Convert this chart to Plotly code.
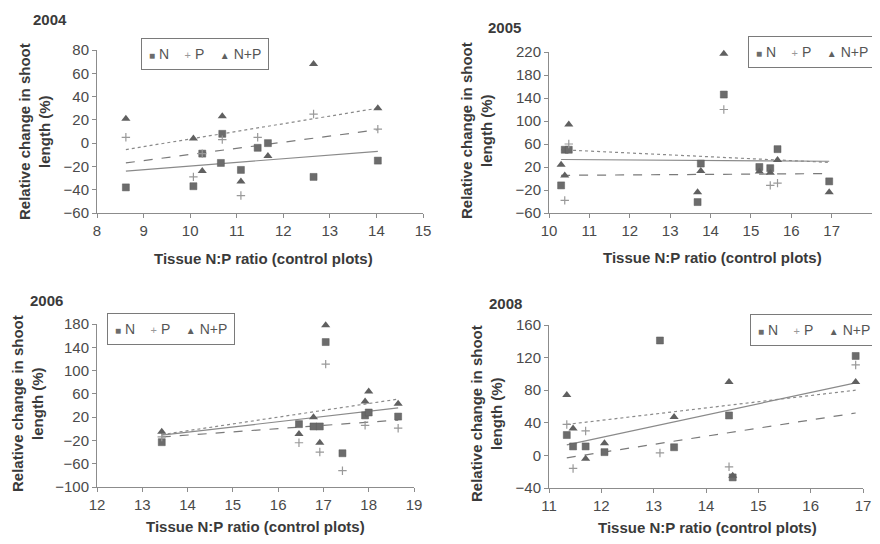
import plotly.graph_objects as go

# target picture size and the page offset (body margin) the figure sits at
PIC_W, PIC_H = 880, 544
OFF = 8
W, H = PIC_W - 2 * OFF, PIC_H - 2 * OFF

# ---------------- data ----------------
years = ["2004", "2005", "2006", "2008"]

# 2004
x_2004 = [8.62, 10.07, 10.26, 10.66, 10.69, 11.09, 11.45, 11.67, 12.65, 14.03]
N_2004 = [-38, -37, -9, -17, 8, -23, -4, 0, -29, -15]
P_2004 = [5, -29, -9, None, 3, -45, 5, None, 25, 12]
NP_2004 = [21, 4, -24, None, 23, -33, None, -11, 68, 30]
trendx_2004 = [8.62, 14.03]
trendN_2004 = [-24, -7]
trendP_2004 = [-17, 11.5]
trendNP_2004 = [-5.5, 30]

# 2005
x_2005 = [10.30, 10.39, 10.49, 13.68, 13.76, 14.33, 15.21, 15.48, 15.66, 16.94]
N_2005 = [-12, 50, 50, -41, 26, 146, 20, 18, 51, -5]
P_2005 = [None, -38, 60, None, None, 120, None, -12, -8, None]
NP_2005 = [24, 5, 94, -24, 13, 217, 12, 10, 32, -24]
trendx_2005 = [10.30, 16.94]
trendN_2005 = [33, 30]
trendP_2005 = [5.5, 8.5]
trendNP_2005 = [50, 28]

# 2006
x_2006 = [13.43, 16.46, 16.78, 16.92, 17.05, 17.42, 17.92, 18.00, 18.65]
N_2006 = [-23, 8, 4, 4, 149, -42, 23, 28, 21]
P_2006 = [-14, -24, None, -40, 111, -72, 6, None, 1]
NP_2006 = [-5, -9, 20, -24, 178, None, 47, 64, 43]
trendx_2006 = [13.43, 18.65]
trendN_2006 = [-11, 36]
trendP_2006 = [-14, 15]
trendNP_2006 = [-10, 51]

# 2008
x_2008 = [11.34, 11.46, 11.70, 12.06, 13.12, 13.39, 14.44, 14.51, 16.86]
N_2008 = [25, 11, 11, 4, 141, 10, 49, -27, 122]
P_2008 = [38, -16, 30, None, 3, None, -14, None, 111]
NP_2008 = [74, 33, -4, 15, None, 47, 90, -25, 90]
trendx_2008 = [11.34, 16.86]
trendN_2008 = [13, 89]
trendP_2008 = [-3, 52]
trendNP_2008 = [38, 80]

# axis ranges / tick steps
xrange_2004, yrange_2004, ystep_2004 = [8, 15], [-60, 80], 20
xrange_2005, yrange_2005, ystep_2005 = [10, 18], [-60, 220], 40
xrange_2006, yrange_2006, ystep_2006 = [12, 19], [-100, 180], 40
xrange_2008, yrange_2008, ystep_2008 = [11, 17], [-40, 160], 40

series_names = ["N", "P", "N+P"]
x_title = "Tissue N:P ratio (control plots)"
y_title = "Relative change in shoot<br>length (%)"

# ---------------- layout geometry (target picture pixels) ----------------
FONT = "Liberation Sans, Arial, sans-serif"
AXCOL = "#8c8c8c"
TXT = "#3a3a3a"

panels = [
    dict(year="2004", ax="", x=x_2004, N=N_2004, P=P_2004, NP=NP_2004,
         tx=trendx_2004, tN=trendN_2004, tP=trendP_2004, tNP=trendNP_2004,
         xr=xrange_2004, yr=yrange_2004, ys=ystep_2004,
         box=(97, 423, 50, 213), title=(31, 20), ytit=(34, 132), xtit=(263, 258),
         leg=(205, 53.5)),
    dict(year="2005", ax="2", x=x_2005, N=N_2005, P=P_2005, NP=NP_2005,
         tx=trendx_2005, tN=trendN_2005, tP=trendP_2005, tNP=trendNP_2005,
         xr=xrange_2005, yr=yrange_2005, ys=ystep_2005,
         box=(549, 872, 52, 213), title=(486, 27), ytit=(477, 131), xtit=(712, 257),
         leg=(811.5, 52.5)),
    dict(year="2006", ax="3", x=x_2006, N=N_2006, P=P_2006, NP=NP_2006,
         tx=trendx_2006, tN=trendN_2006, tP=trendP_2006, tNP=trendNP_2006,
         xr=xrange_2006, yr=yrange_2006, ys=ystep_2006,
         box=(97, 414, 324, 487), title=(28, 300), ytit=(27, 404), xtit=(255, 526),
         leg=(171, 328.5)),
    dict(year="2008", ax="4", x=x_2008, N=N_2008, P=P_2008, NP=NP_2008,
         tx=trendx_2008, tN=trendN_2008, tP=trendP_2008, tNP=trendNP_2008,
         xr=xrange_2008, yr=yrange_2008, ys=ystep_2008,
         box=(549, 863, 325, 488), title=(487, 303), ytit=(486, 413), xtit=(707, 527),
         leg=(813.5, 329.5)),
]

fig = go.Figure()
annotations = []
layout_axes = {}

marker_N = dict(symbol="square", size=7, color="#6c6c6c", line=dict(color="#5a5a5a", width=0.5))
marker_P = dict(symbol="cross-thin", size=6, line=dict(color="#999999", width=1.2))
marker_NP = dict(symbol="triangle-up", size=8, color="#606060")


def clamp(v):
    return max(0.0, min(1.0, v))


def px2paper_x(px):
    return (px - OFF) / W


def px2paper_y(py):
    return 1 - (py - OFF) / H


for p in panels:
    xa, ya = "x" + p["ax"], "y" + p["ax"]
    # trend lines
    fig.add_trace(go.Scatter(x=p["tx"], y=p["tN"], mode="lines", xaxis=xa, yaxis=ya,
                             line=dict(color="#8a8a8a", width=1.2, dash="solid"),
                             showlegend=False, hoverinfo="skip"))
    fig.add_trace(go.Scatter(x=p["tx"], y=p["tP"], mode="lines", xaxis=xa, yaxis=ya,
                             line=dict(color="#7a7a7a", width=1.2, dash="dash"),
                             showlegend=False, hoverinfo="skip"))
    fig.add_trace(go.Scatter(x=p["tx"], y=p["tNP"], mode="lines", xaxis=xa, yaxis=ya,
                             line=dict(color="#8a8a8a", width=1.2, dash="dot"),
                             showlegend=False, hoverinfo="skip"))
    # points
    fig.add_trace(go.Scatter(x=p["x"], y=p["N"], mode="markers", name=series_names[0],
                             xaxis=xa, yaxis=ya, marker=marker_N, showlegend=False,
                             cliponaxis=False))
    fig.add_trace(go.Scatter(x=p["x"], y=p["P"], mode="markers", name=series_names[1],
                             xaxis=xa, yaxis=ya, marker=marker_P, showlegend=False,
                             cliponaxis=False))
    fig.add_trace(go.Scatter(x=p["x"], y=p["NP"], mode="markers", name=series_names[2],
                             xaxis=xa, yaxis=ya, marker=marker_NP, showlegend=False,
                             cliponaxis=False))

    l, r, t, b = p["box"]
    axis_common = dict(showline=True, linecolor=AXCOL, linewidth=1, ticks="outside",
                       ticklen=4, tickcolor=AXCOL, tickwidth=1, showgrid=False,
                       zeroline=False, automargin=False,
                       tickfont=dict(family=FONT, size=15, color="#4a4a4a"),
                       fixedrange=True)
    layout_axes["xaxis" + p["ax"]] = dict(axis_common,
                                          domain=[clamp(px2paper_x(l)), clamp(px2paper_x(r))],
                                          range=p["xr"], dtick=1, tick0=p["xr"][0],
                                          anchor=ya)
    layout_axes["yaxis" + p["ax"]] = dict(axis_common,
                                          domain=[clamp(px2paper_y(b)), clamp(px2paper_y(t))],
                                          range=p["yr"], dtick=p["ys"], tick0=p["yr"][0],
                                          anchor=xa)

    # year title
    annotations.append(dict(text="<b>%s</b>" % p["year"], xref="paper", yref="paper",
                            x=px2paper_x(p["title"][0]), y=px2paper_y(p["title"][1]),
                            xanchor="left", yanchor="middle", showarrow=False,
                            font=dict(family=FONT, size=15, color=TXT)))
    # y title
    annotations.append(dict(text="<b>%s</b>" % y_title, xref="paper", yref="paper",
                            x=px2paper_x(p["ytit"][0]), y=px2paper_y(p["ytit"][1]),
                            xanchor="center", yanchor="middle", showarrow=False,
                            textangle=-90, align="center",
                            font=dict(family=FONT, size=15, color=TXT)))
    # x title
    annotations.append(dict(text="<b>%s</b>" % x_title, xref="paper", yref="paper",
                            x=px2paper_x(p["xtit"][0]), y=px2paper_y(p["xtit"][1]),
                            xanchor="center", yanchor="middle", showarrow=False,
                            font=dict(family=FONT, size=15, color=TXT)))
    # legend box
    nb = "\u00a0"
    leg_text = ('<span style="color:#6c6c6c;font-size:10px">\u25a0</span>' + nb + series_names[0]
                + nb * 4 + '<span style="color:#999999;font-size:11px">+</span>' + nb + series_names[1]
                + nb * 4 + '<span style="color:#606060;font-size:10px">\u25b2</span>' + nb + series_names[2])
    annotations.append(dict(text=leg_text, xref="paper", yref="paper",
                            x=px2paper_x(p["leg"][0]), y=px2paper_y(p["leg"][1]),
                            xanchor="center", yanchor="middle", showarrow=False,
                            bordercolor="#7a7a7a", borderwidth=1, borderpad=7,
                            bgcolor="white",
                            font=dict(family=FONT, size=14, color="#555555")))

fig.update_layout(width=W, height=H, margin=dict(l=0, r=0, t=0, b=0),
                  paper_bgcolor="white", plot_bgcolor="white", showlegend=False,
                  annotations=annotations, **layout_axes)

fig.write_html("out.html")
